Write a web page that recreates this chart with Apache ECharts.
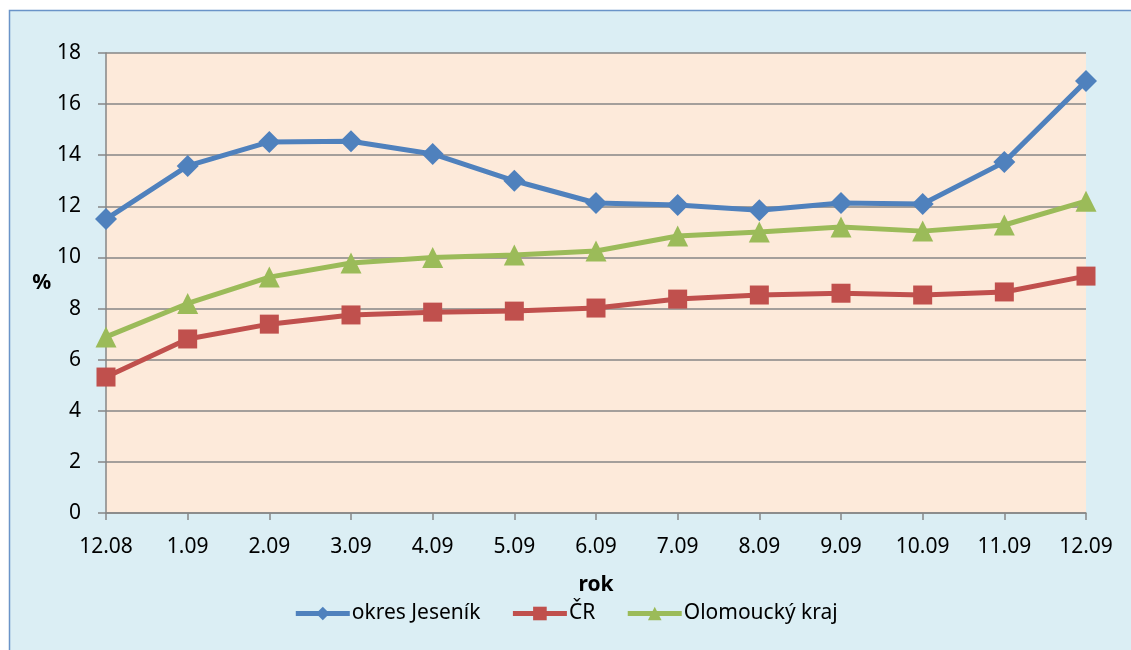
<!DOCTYPE html>
<html>
<head>
<meta charset="utf-8">
<script src="https://cdn.jsdelivr.net/npm/echarts@6/dist/echarts.min.js"></script>
<style>
  html, body { margin: 0; padding: 0; background: #fff; }
  #chart { width: 1131px; height: 650px; }
</style>
</head>
<body>
<div id="chart"></div>
<script>
  // měsíce (osa x)
  var months = ['12.08', '1.09', '2.09', '3.09', '4.09', '5.09', '6.09', '7.09', '8.09', '9.09', '10.09', '11.09', '12.09'];
  // míra nezaměstnanosti v %
  var jesenik = [11.5, 13.58, 14.52, 14.55, 14.05, 13.0, 12.13, 12.05, 11.85, 12.13, 12.09, 13.73, 16.9];
  var cr = [5.32, 6.81, 7.39, 7.75, 7.86, 7.9, 8.02, 8.37, 8.53, 8.6, 8.53, 8.65, 9.27];
  var olomoucky = [6.89, 8.2, 9.23, 9.78, 10.0, 10.1, 10.25, 10.84, 11.0, 11.19, 11.03, 11.27, 12.2];

  var font = '"Noto Sans", sans-serif';
  var chart = echarts.init(document.getElementById('chart'));
  chart.setOption({
    backgroundColor: '#fff',
    textStyle: { fontFamily: font },
    graphic: [{
      type: 'rect',
      z: -10,
      shape: { x: 9.5, y: 10.5, width: 1140, height: 660 },
      style: { fill: '#DBEEF4', stroke: '#6A94C8', lineWidth: 1.5 }
    }],
    grid: {
      left: 106, right: 45, top: 53, bottom: 137,
      show: true,
      backgroundColor: '#FDEADA',
      borderWidth: 0
    },
    legend: {
      bottom: 21,
      left: 'center',
      itemWidth: 54,
      itemHeight: 17,
      itemGap: 30,
      lineStyle: { width: 5 },
      textStyle: { fontSize: 21, color: '#000', fontFamily: font, padding: [0, 0, 0, -3] },
      data: ['okres Jeseník', 'ČR', 'Olomoucký kraj']
    },
    xAxis: {
      type: 'category',
      data: months,
      boundaryGap: false,
      name: 'rok',
      nameLocation: 'middle',
      nameGap: 62,
      nameTextStyle: { fontSize: 21, fontWeight: 'bold', color: '#000', fontFamily: font },
      axisLine: { lineStyle: { color: '#868686', width: 1.5 } },
      axisTick: { show: true, length: 7, lineStyle: { color: '#868686', width: 1.5 } },
      axisLabel: { fontSize: 21, color: '#000', margin: 24, fontFamily: font },
      splitLine: { show: false }
    },
    yAxis: {
      type: 'value',
      min: 0, max: 18, interval: 2,
      name: '%',
      nameLocation: 'middle',
      nameRotate: 0,
      nameGap: 50,
      nameTextStyle: { fontSize: 21, fontWeight: 'bold', color: '#000', fontFamily: font },
      axisLine: { show: true, lineStyle: { color: '#868686', width: 1.5 } },
      axisTick: { show: true, length: 8, lineStyle: { color: '#868686', width: 1.5 } },
      axisLabel: { fontSize: 21, color: '#000', margin: 25, fontFamily: font },
      splitLine: { lineStyle: { color: '#868686', width: 1.5 } }
    },
    series: [{
      name: 'okres Jeseník',
      type: 'line',
      data: jesenik,
      symbol: 'diamond',
      symbolSize: 22,
      itemStyle: { color: '#4F81BD' },
      lineStyle: { color: '#4F81BD', width: 5 }
    }, {
      name: 'ČR',
      type: 'line',
      data: cr,
      symbol: 'rect',
      symbolSize: 19,
      itemStyle: { color: '#C0504D' },
      lineStyle: { color: '#C0504D', width: 5 }
    }, {
      name: 'Olomoucký kraj',
      type: 'line',
      data: olomoucky,
      symbol: 'triangle',
      symbolSize: 21,
      itemStyle: { color: '#9BBB59' },
      lineStyle: { color: '#9BBB59', width: 5 }
    }]
  });
</script>
</body>
</html>
